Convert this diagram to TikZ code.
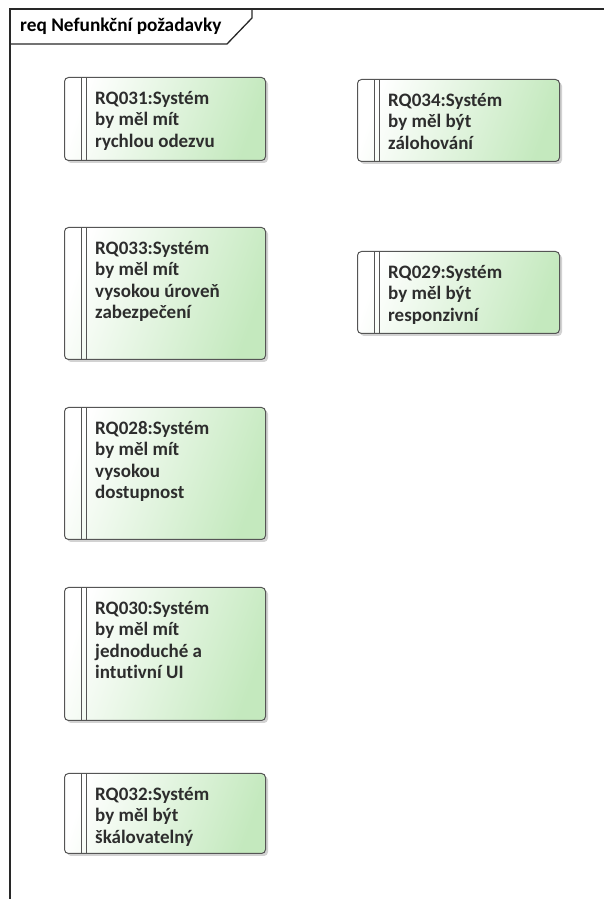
\documentclass[tikz,border=0pt]{standalone}
\usepackage{fontspec}
\setmainfont{Carlito}[Ligatures=NoCommon]
\usetikzlibrary{shadows}
\definecolor{reqgreen}{RGB}{196,233,190}
\definecolor{framegray}{RGB}{40,40,40}
\definecolor{boxedge}{RGB}{85,85,85}
\definecolor{inktext}{RGB}{45,45,45}
\tikzset{
  x=1pt, y=1pt,
  framelines/.style={draw=framegray, line width=1.3pt},
  reqbox/.style={draw=boxedge, line width=1pt, rounded corners=4pt,
    left color=white, right color=reqgreen, shading angle=70,
    anchor=north west, inner sep=0pt,
    drop shadow={shadow xshift=2.5pt, shadow yshift=-2.5pt, opacity=0.35, fill=gray},
    path picture={
      \draw[boxedge, line width=0.8pt]
        ([xshift=17pt]path picture bounding box.north west) --
        ([xshift=17pt]path picture bounding box.south west);
      \draw[boxedge, line width=0.8pt]
        ([xshift=22pt]path picture bounding box.north west) --
        ([xshift=22pt]path picture bounding box.south west);
    }},
  reqtext/.style={anchor=north west, inner sep=0pt, align=left, text=inktext,
    font=\bfseries\fontsize{19}{21.5}\selectfont},
}
\begin{document}
\begin{tikzpicture}
\useasboundingbox (0,0) rectangle (604,899);
\fill[white] (0,0) rectangle (604,899);

% diagram frame with its name tab
\coordinate (ftop) at (10,890);
\coordinate (fright) at (604,890);
\coordinate (fbot) at (10,0);
\coordinate (tabA) at (10,855);
\coordinate (tabB) at (227,855);
\coordinate (tabC) at (252,881);
\coordinate (tabD) at (252,890);
\draw[framelines] (fbot) -- (ftop) -- (fright);
\draw[framelines] (tabA) -- (tabB) -- (tabC) -- (tabD);
\node[anchor=base west, inner sep=0pt, text=black,
  font=\bfseries\fontsize{19.3}{20}\selectfont] (title) at (20,867) {req Nefunkční požadavky};

% requirement elements
\node[reqbox, minimum width=201pt, minimum height=83pt] (b031) at (64,822) {};
\node[reqtext] (t031) at ([shift={(31pt,-14pt)}]b031.north west)
  {RQ031:Systém\\by měl mít\\rychlou odezvu};

\node[reqbox, minimum width=201pt, minimum height=132pt] (b033) at (64,672) {};
\node[reqtext] (t033) at ([shift={(31pt,-14pt)}]b033.north west)
  {RQ033:Systém\\by měl mít\\vysokou úroveň\\zabezpečení};

\node[reqbox, minimum width=201pt, minimum height=132pt] (b028) at (64,492) {};
\node[reqtext] (t028) at ([shift={(31pt,-14pt)}]b028.north west)
  {RQ028:Systém\\by měl mít\\vysokou\\dostupnost};

\node[reqbox, minimum width=201pt, minimum height=133pt] (b030) at (64,312) {};
\node[reqtext] (t030) at ([shift={(31pt,-14pt)}]b030.north west)
  {RQ030:Systém\\by měl mít\\jednoduché a\\intutivní UI};

\node[reqbox, minimum width=201pt, minimum height=80pt] (b032) at (64,126) {};
\node[reqtext] (t032) at ([shift={(31pt,-14pt)}]b032.north west)
  {RQ032:Systém\\by měl být\\škálovatelný};

\node[reqbox, minimum width=202pt, minimum height=82pt] (b034) at (357,820) {};
\node[reqtext] (t034) at ([shift={(31pt,-14pt)}]b034.north west)
  {RQ034:Systém\\by měl být\\zálohování};

\node[reqbox, minimum width=202pt, minimum height=82pt] (b029) at (357,648) {};
\node[reqtext] (t029) at ([shift={(31pt,-14pt)}]b029.north west)
  {RQ029:Systém\\by měl být\\responzivní};
\end{tikzpicture}
\end{document}
